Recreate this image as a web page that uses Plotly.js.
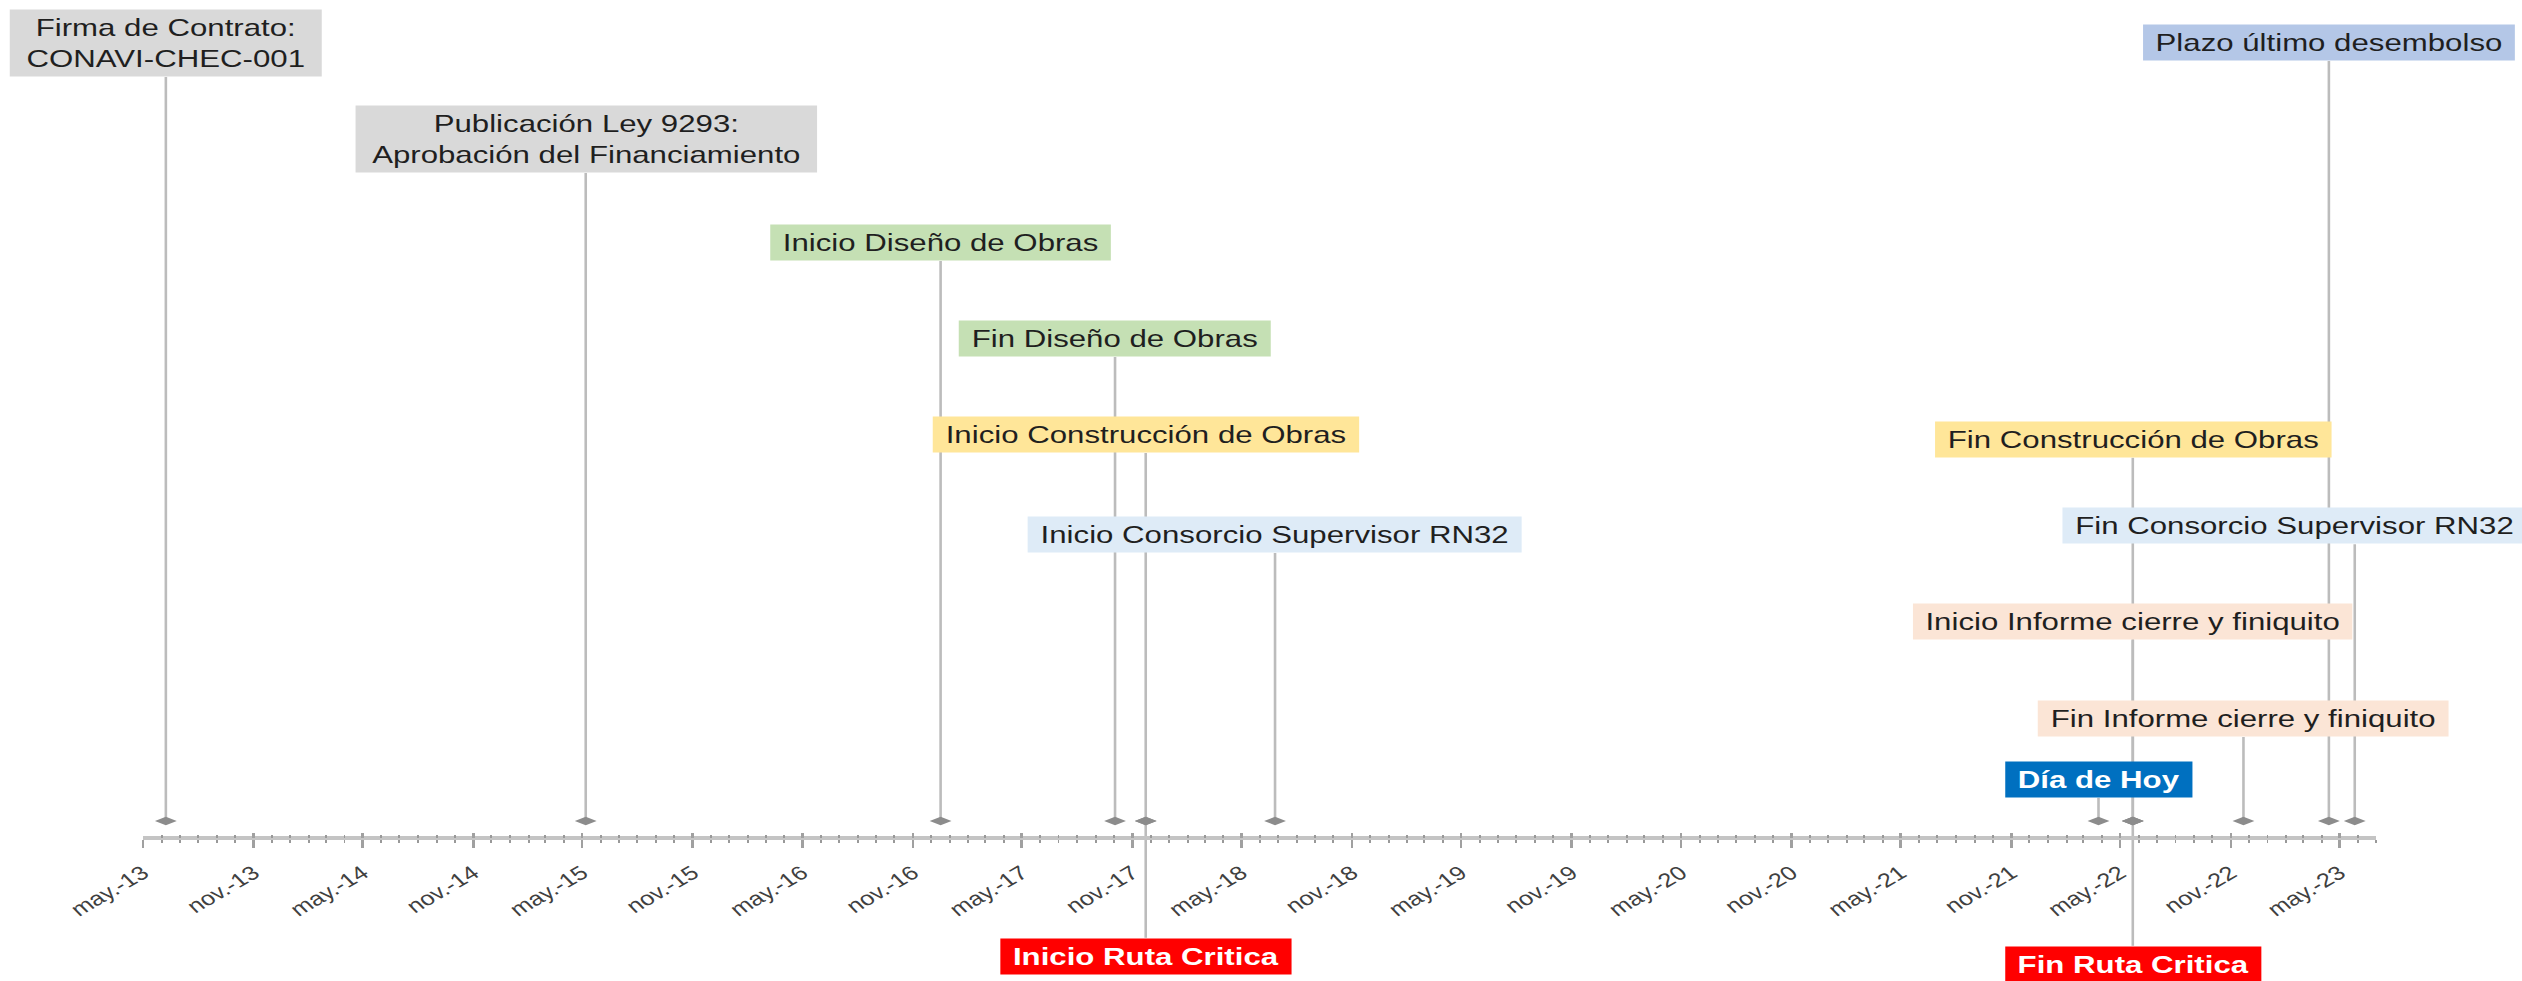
<!DOCTYPE html>
<html>
<head>
<meta charset="utf-8">
<script src="https://cdn.plot.ly/plotly-3.0.1.min.js"></script>
<style>
  html, body { margin: 0; padding: 0; background: #ffffff; overflow: hidden; }
  #marco { width: 2522px; height: 981px; overflow: hidden; }
  #grafico { width: 1940px; height: 981px; transform: scaleX(1.3); transform-origin: 0 0; }
</style>
</head>
<body>
<div id="marco"><div id="grafico"></div></div>
<script>
// ---- Datos ----
const fechasEje = ['2013-05-01','2013-11-01','2014-05-01','2014-11-01','2015-05-01','2015-11-01',
  '2016-05-01','2016-11-01','2017-05-01','2017-11-01','2018-05-01','2018-11-01','2019-05-01',
  '2019-11-01','2020-05-01','2020-11-01','2021-05-01','2021-11-01','2022-05-01','2022-11-01','2023-05-01'];
const etiquetasEje = ['may.-13','nov.-13','may.-14','nov.-14','may.-15','nov.-15','may.-16','nov.-16',
  'may.-17','nov.-17','may.-18','nov.-18','may.-19','nov.-19','may.-20','nov.-20','may.-21','nov.-21',
  'may.-22','nov.-22','may.-23'];

const hitos = [
  'Firma de Contrato:<br>CONAVI-CHEC-001',
  'Publicación Ley 9293:<br>Aprobación del Financiamiento',
  'Inicio Diseño de Obras',
  'Fin Diseño de Obras',
  'Inicio Construcción de Obras',
  'Inicio Consorcio Supervisor RN32',
  'Inicio Ruta Critica',
  'Día de Hoy',
  'Fin Construcción de Obras',
  'Inicio Informe cierre y finiquito',
  'Fin Ruta Critica',
  'Fin Informe cierre y finiquito',
  'Plazo último desembolso',
  'Fin Consorcio Supervisor RN32'
];
const fechas = ['2013-06-08','2015-05-07','2016-12-17','2017-10-03','2017-11-23','2018-06-26',
  '2017-11-23','2022-03-26','2022-05-22','2022-05-22','2022-05-22','2022-11-22','2023-04-13','2023-05-26'];
const alturas = [93, 81, 70, 58, 46, 33.5, -14.6, 2.9, 45.4, 22.6, -15.6, 10.5, 95, 34.6];
const tipos = ['hito','hito','diseno','diseno','construccion','supervision','ruta','hoy',
  'construccion','cierre','ruta','cierre','desembolso','supervision'];

// ---- Estilos ----
const estilos = {
  hito:         { bg: '#d9d9d9', color: '#1f1f1f', bold: false },
  diseno:       { bg: '#c5e0b4', color: '#1f1f1f', bold: false },
  construccion: { bg: '#ffe699', color: '#1f1f1f', bold: false },
  supervision:  { bg: '#deebf7', color: '#1f1f1f', bold: false },
  desembolso:   { bg: '#b4c7e7', color: '#1f1f1f', bold: false },
  cierre:       { bg: '#fbe5d6', color: '#1f1f1f', bold: false },
  hoy:          { bg: '#0070c0', color: '#ffffff', bold: true },
  ruta:         { bg: '#ff0000', color: '#ffffff', bold: true }
};
const desplazamientoX = { 'Fin Consorcio Supervisor RN32': -46 };
const FUENTE = 'Liberation Sans, Arial, sans-serif';
const TAM = 24;

const lienzo = document.createElement('canvas').getContext('2d');
function anchoTexto(txt, bold) {
  lienzo.font = (bold ? 'bold ' : '') + TAM + 'px "Liberation Sans"';
  return Math.max(...txt.split('<br>').map(s => lienzo.measureText(s).width));
}

// Líneas verticales
const lx = [], ly = [];
fechas.forEach((f, i) => { lx.push(f, f, null); ly.push(0, alturas[i], null); });

const trazas = [
  { type: 'scatter', mode: 'lines', x: lx, y: ly, hoverinfo: 'skip',
    line: { color: '#bcbcbc', width: 2 }, showlegend: false },
  { type: 'scatter', mode: 'markers', x: fechas, y: fechas.map(() => 0), hoverinfo: 'skip',
    marker: { symbol: 'diamond-wide', size: 12, color: '#8c8c8c' }, showlegend: false },
  { type: 'scatter', mode: 'markers', x: [], y: [], xaxis: 'x2', hoverinfo: 'skip', showlegend: false }
];

const anotaciones = hitos.map((t, i) => {
  const e = estilos[tipos[i]];
  const multilinea = t.indexOf('<br>') >= 0;
  return {
    x: fechas[i], y: alturas[i], xref: 'x', yref: 'y', text: t, showarrow: false,
    xanchor: 'center', yanchor: alturas[i] >= 0 ? 'bottom' : 'top',
    xshift: desplazamientoX[t] || 0,
    bgcolor: e.bg, borderpad: 4, align: 'center',
    width: Math.ceil(anchoTexto(t, e.bold)) + (multilinea ? 16 : 10),
    font: { family: FUENTE, size: TAM, color: e.color, weight: e.bold ? 'bold' : 'normal' }
  };
});

const posEje = (981 - 838) / 981;
const layout = {
  width: 1940, height: 981,
  margin: { l: 110, r: 111.5, t: 0, b: 0 },
  paper_bgcolor: '#ffffff', plot_bgcolor: '#ffffff',
  showlegend: false,
  xaxis: {
    type: 'date', range: ['2013-05-01', '2023-07-01'],
    anchor: 'free', position: posEje,
    showgrid: false, zeroline: false,
    showline: true, linecolor: '#c4c4c4', linewidth: 4,
    tickmode: 'array', tickvals: fechasEje, ticktext: etiquetasEje,
    ticks: 'outside', ticklen: 8, tickwidth: 2, tickcolor: '#a0a0a0',
    ticklabelstandoff: 6,
    tickangle: -37, tickfont: { family: FUENTE, size: 19.5, color: '#404040' },
    minor: { tickmode: 'linear', tick0: '2013-05-01', dtick: 'M1', ticks: 'outside',
             ticklen: 3, tickwidth: 1.5, tickcolor: '#999999', showgrid: false }
  },
  xaxis2: {
    type: 'date', range: ['2013-05-01', '2023-07-01'],
    overlaying: 'x', anchor: 'free', position: posEje, side: 'bottom',
    showgrid: false, zeroline: false, showline: false, showticklabels: false,
    tickmode: 'array', tickvals: fechasEje,
    ticks: 'inside', ticklen: 5, tickwidth: 2, tickcolor: '#a0a0a0',
    minor: { tickmode: 'linear', tick0: '2013-05-01', dtick: 'M1', ticks: 'inside',
             ticklen: 3, tickwidth: 1.5, tickcolor: '#999999', showgrid: false }
  },
  yaxis: { range: [-20, 102.625], visible: false, showgrid: false, zeroline: false, fixedrange: true },
  annotations: anotaciones
};

Plotly.newPlot('grafico', trazas, layout, { staticPlot: true, displayModeBar: false });
</script>
</body>
</html>
